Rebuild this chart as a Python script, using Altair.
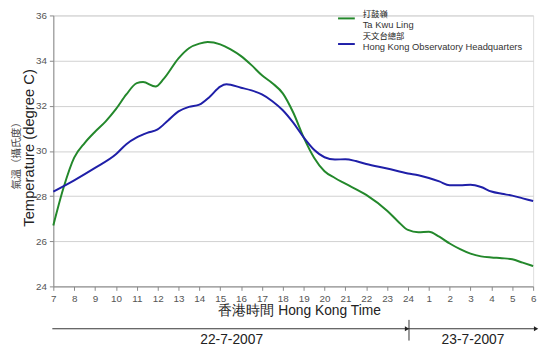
import altair as alt
import pandas as pd

# Ta Kwu Ling (hours since 0:00 on 22-7-2007)
hours_tkl = [7, 7.5, 8, 8.5, 9, 9.5, 10, 10.5, 11, 11.3, 11.9, 12.3, 13, 13.5, 14, 14.4,
             15, 15.5, 16, 16.5, 17, 17.5, 18, 18.5, 19, 19.5, 20, 20.5, 21, 22, 23, 23.5,
             24, 24.5, 25, 25.5, 26, 26.5, 27, 27.5, 28, 28.5, 29, 29.5, 30]
temp_tkl = [26.7, 28.4, 29.7, 30.35, 30.85, 31.3, 31.85, 32.5, 33.0, 33.05, 32.85, 33.2, 34.1,
            34.55, 34.75, 34.82, 34.72, 34.5, 34.2, 33.8, 33.35, 33.0, 32.55, 31.7, 30.6,
            29.7, 29.1, 28.8, 28.55, 28.05, 27.35, 26.9, 26.5, 26.4, 26.42, 26.2, 25.9,
            25.65, 25.45, 25.33, 25.28, 25.25, 25.2, 25.05, 24.9]

# Hong Kong Observatory Headquarters
hours_hko = [7, 8, 9, 10, 10.5, 11, 11.5, 12, 12.5, 13, 13.5, 14, 14.5, 15, 15.3, 16, 16.5,
             17, 17.5, 18, 18.5, 19, 19.5, 20, 20.5, 21, 21.5, 22, 23, 24, 24.5, 25, 25.5,
             26, 26.5, 27, 27.5, 28, 28.5, 29, 29.5, 30]
temp_hko = [28.2, 28.7, 29.25, 29.85, 30.3, 30.6, 30.8, 30.95, 31.35, 31.75, 31.95, 32.05,
            32.4, 32.85, 32.95, 32.8, 32.68, 32.5, 32.2, 31.8, 31.25, 30.6, 30.05, 29.72,
            29.62, 29.63, 29.55, 29.42, 29.22, 29.0, 28.92, 28.8, 28.65, 28.48, 28.48, 28.5,
            28.4, 28.2, 28.1, 28.02, 27.9, 27.78]

x_ticks = list(range(7, 31))
y_ticks = [24, 26, 28, 30, 32, 34, 36]
series_names = ["Ta Kwu Ling", "Hong Kong Observatory Headquarters"]
colors = ["#23882b", "#1f1fa8"]

df = pd.concat([
    pd.DataFrame({"hour": hours_tkl, "temp": temp_tkl, "station": series_names[0]}),
    pd.DataFrame({"hour": hours_hko, "temp": temp_hko, "station": series_names[1]}),
])

FONT = "Liberation Sans"
CJK = "Noto Sans CJK TC"
GRAY = "#555555"

lines = alt.Chart(df).mark_line(strokeWidth=2, interpolate="monotone").encode(
    x=alt.X("hour:Q", scale=alt.Scale(domain=[7, 30], nice=False),
            axis=alt.Axis(values=x_ticks, title=None, grid=False,
                          labelExpr="datum.value > 24 ? datum.value - 24 : datum.value",
                          labelFont=FONT, labelFontSize=10, labelColor=GRAY,
                          domainColor="#888888", tickColor="#888888", tickSize=4,
                          labelPadding=3, labelFlush=False)),
    y=alt.Y("temp:Q", scale=alt.Scale(domain=[24, 36], nice=False),
            axis=alt.Axis(values=y_ticks, grid=True, gridColor="#d0d0d0",
                          title="Temperature (degree C)", titleFont=FONT, titleFontSize=15,
                          titleFontWeight="normal", titleColor="#222222",
                          titleAngle=270, titleAlign="center", titleBaseline="middle",
                          titleX=-25, titleY=134,
                          labelFont=FONT, labelFontSize=10, labelColor=GRAY,
                          domainColor="#888888", tickColor="#888888", tickSize=4,
                          labelPadding=3)),
    color=alt.Color("station:N", scale=alt.Scale(domain=series_names, range=colors), legend=None),
)

def txt(s, x, y, size, angle=0, align="center", color="#222222", font=FONT):
    return alt.Chart(pd.DataFrame({"t": [s]})).mark_text(
        align=align, baseline="middle", fontSize=size, color=color, font=font
    ).encode(x=alt.value(x), y=alt.value(y), text="t:N", angle=alt.value(angle))

def rule(x1, x2, y1, y2, color, width):
    return alt.Chart(pd.DataFrame({"a": [0]})).mark_rule(color=color, strokeWidth=width).encode(
        x=alt.value(x1), x2=alt.value(x2), y=alt.value(y1), y2=alt.value(y2))

def arrow(x, y):
    return alt.Chart(pd.DataFrame({"a": [0]})).mark_point(
        shape="triangle-right", filled=True, color="#222222", size=26, opacity=1
    ).encode(x=alt.value(x), y=alt.value(y))

layers = [
    lines,
    # legend
    rule(289, 306, 3, 3, colors[0], 2),
    rule(289, 306, 29, 29, colors[1], 2),
    txt("打鼓嶺", 314, -1, 8.5, align="left", font=CJK),
    txt("Ta Kwu Ling", 314, 9.5, 9.5, align="left", color="#333333"),
    txt("天文台總部", 314, 20.5, 8.5, align="left", font=CJK),
    txt("Hong Kong Observatory Headquarters", 314, 32, 9.5, align="left", color="#333333"),
    # chinese y title
    txt("氣溫（攝氏度）", -37, 140, 10.5, angle=270, color="#444444", font=CJK),
    # x title
    txt("香港時間 Hong Kong Time", 250, 300, 14),
    # date arrow
    rule(-1, 490, 318, 318, "#333333", 1),
    rule(361, 361, 309, 330, "#333333", 1),
    arrow(359, 318), arrow(490, 318),
    txt("22-7-2007", 181, 329, 14),
    txt("23-7-2007", 426, 329, 14),
]

chart = alt.layer(*layers).properties(
    width=487, height=275,
    autosize=alt.AutoSizeParams(type="none"),
    padding={"left": 46, "top": 5, "right": 9, "bottom": 62},
).configure_view(stroke="#999999", strokeWidth=1).configure(background="white")

chart.save("out.html", embed_options={"renderer": "svg", "actions": False})
